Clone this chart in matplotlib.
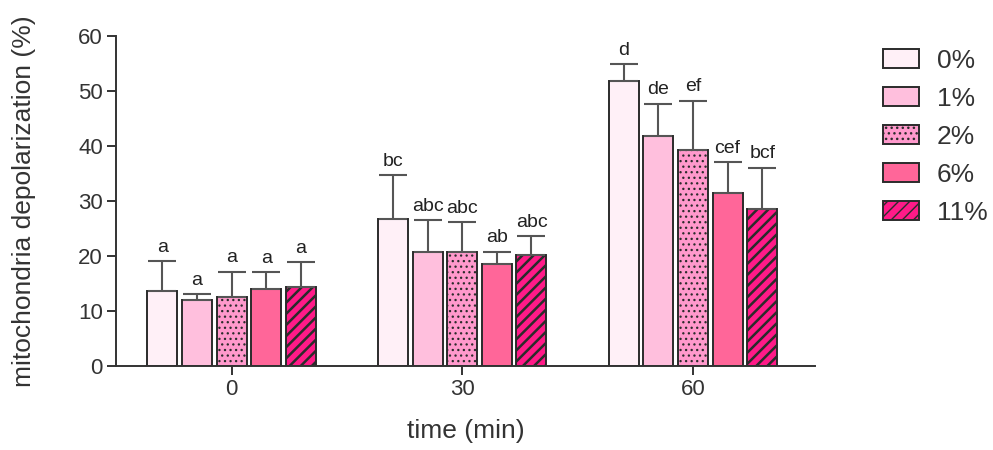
import numpy as np
import matplotlib as mpl
import matplotlib.pyplot as plt
from matplotlib.patches import Patch

plt.rcParams['font.family'] = ['Liberation Sans', 'DejaVu Sans']

times = ['0', '30', '60']
groups = ['0%', '1%', '2%', '6%', '11%']

mean_0 = [13.7, 11.9, 12.6, 13.9, 14.4]
mean_30 = [26.8, 20.7, 20.7, 18.6, 20.2]
mean_60 = [51.9, 41.8, 39.3, 31.5, 28.5]

sd_0 = [5.3, 1.1, 4.5, 3.1, 4.4]
sd_30 = [7.9, 5.8, 5.4, 2.2, 3.4]
sd_60 = [3.0, 5.9, 8.9, 5.5, 7.5]

letters_0 = ['a', 'a', 'a', 'a', 'a']
letters_30 = ['bc', 'abc', 'abc', 'ab', 'abc']
letters_60 = ['d', 'de', 'ef', 'cef', 'bcf']

colors = ['#fff0f7', '#ffbfdd', '#ff99cc', '#ff6699', '#ff1a88']
hatches = [None, None, '...', None, '///']
hatch_lw = [1.0, 1.0, 0.9, 1.0, 1.8]

means = np.array([mean_0, mean_30, mean_60])
sds = np.array([sd_0, sd_30, sd_60])
letters = [letters_0, letters_30, letters_60]

fig = plt.figure(figsize=(9.93, 4.5), dpi=100)
ax = fig.add_axes([0.117, 0.187, 0.704, 0.733])

edge = '#2b2b2b'
x = np.arange(len(times))
step = 0.15
width = 0.13
handles = []
for i, g in enumerate(groups):
    pos = x + (i - 2) * step
    with mpl.rc_context({'hatch.linewidth': hatch_lw[i], 'hatch.color': '#444444'}):
        ax.bar(pos, means[:, i], width, color=colors[i], edgecolor=edge,
               linewidth=1.4, hatch=hatches[i])
        handles.append(Patch(facecolor=colors[i], edgecolor=edge, linewidth=1.4,
                             hatch=hatches[i], label=g))
    ax.errorbar(pos, means[:, i], yerr=[np.zeros(3), sds[:, i]], fmt='none',
                ecolor='#555555', elinewidth=1.5, capsize=10, capthick=1.5)
    for j in range(len(times)):
        ax.text(pos[j], means[j, i] + sds[j, i] + 1.0, letters[j][i],
                ha='center', va='bottom', fontsize=14, color='#222222')

ax.set_xlim(-0.5, 2.53)
ax.set_ylim(0, 60)
ax.set_yticks(range(0, 61, 10))
ax.set_xticks(x)
ax.set_xticklabels(times)
ax.spines['top'].set_visible(False)
ax.spines['right'].set_visible(False)
for s in ['left', 'bottom']:
    ax.spines[s].set_linewidth(1.4)
    ax.spines[s].set_color('#333333')
ax.tick_params(axis='both', labelsize=16, colors='#333333', width=1.4, length=6.5, pad=3)
ax.set_ylabel('mitochondria depolarization (%)', fontsize=19, color='#333333', labelpad=30)
ax.set_xlabel('time (min)', fontsize=19, color='#333333', labelpad=14)

fig.legend(handles=handles, loc='upper left', bbox_to_anchor=(0.889, 0.892),
           bbox_transform=fig.transFigure, frameon=False, fontsize=19,
           handlelength=1.36, handleheight=0.72, labelspacing=0.53,
           handletextpad=0.68, borderpad=0, borderaxespad=0, labelcolor='#333333')

fig.savefig('out.png', dpi=100)
